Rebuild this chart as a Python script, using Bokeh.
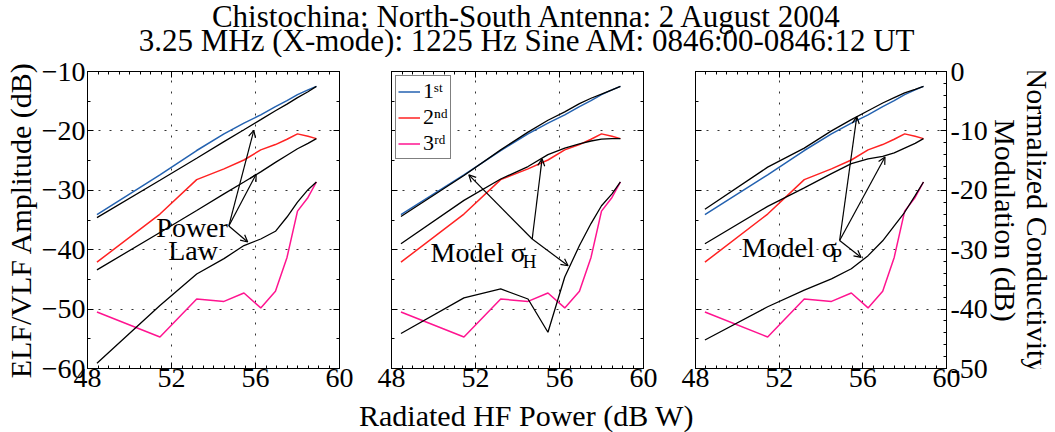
import math
from bokeh.plotting import figure
from bokeh.models import (Range1d, LinearAxis, SingleIntervalTicker, Label, Arrow,
                          OpenHead, Legend, LegendItem, CustomLabelingPolicy)
from bokeh.layouts import column, row
from bokeh.embed import file_html
from bokeh.resources import INLINE

# ---------------- data ----------------
power = [48.45, 51.45, 53.2, 54.5, 55.45, 56.25, 56.95, 57.5, 58.0, 58.5, 58.9]

first = [-34.1, -27.4, -23.3, -20.5, -18.7, -17.3, -15.9, -14.9, -13.9, -13.1, -12.5]
second = [-42.1, -34.0, -28.2, -26.4, -24.9, -23.2, -22.3, -21.4, -20.5, -20.9, -21.3]
third = [-50.5, -54.7, -48.3, -48.7, -47.3, -49.8, -47.0, -41.3, -33.5, -31.2, -28.6]

# power-law fits
pl_1 = [-34.6, -28.3, -24.6, -21.8, -19.8, -18.1, -16.6, -15.5, -14.4, -13.4, -12.5]
pl_2 = [-43.4, -37.1, -33.4, -30.6, -28.6, -26.9, -25.3, -24.1, -23.0, -22.1, -21.3]
pl_3 = [-59.1, -49.4, -44.1, -41.5, -39.3, -38.2, -36.9, -34.5, -32.0, -29.9, -28.6]

# model sigma_H
sh_1 = [-34.4, -27.5, -23.2, -20.2, -18.2, -16.8, -15.4, -14.5, -13.8, -13.1, -12.5]
sh_2 = [-39.0, -31.7, -28.1, -26.0, -24.0, -22.9, -22.2, -21.7, -21.4, -21.3, -21.3]
sh_3 = [-54.1, -48.1, -46.6, -48.3, -53.9, -44.6, -39.3, -35.6, -32.6, -30.6, -28.6]

# model sigma_P
sp_1 = [-33.2, -26.1, -22.9, -20.0, -18.1, -16.6, -15.3, -14.4, -13.6, -13.0, -12.5]
sp_2 = [-39.0, -32.7, -29.6, -27.2, -25.5, -24.7, -24.3, -23.7, -22.9, -22.1, -21.3]
sp_3 = [-55.2, -49.6, -46.8, -44.9, -43.2, -41.0, -38.5, -36.0, -33.7, -30.9, -28.6]

harmonic_labels = ["1\u02e2\u1d57", "2\u207f\u1d48", "3\u02b3\u1d48"]

right_ticks = [0, -10, -20, -30, -40, -50]
right_tick_labels = ["0", "-10", "-20", "-30", "-40", "-50"]

title_lines = ["Chistochina: North-South Antenna: 2 August 2004",
               "3.25 MHz (X-mode): 1225 Hz Sine AM: 0846:00-0846:12 UT"]
x_label = "Radiated HF Power (dB W)"
y_label_left = "ELF/VLF Amplitude (dB)"
y_label_right = ["Normalized Conductivity", "Modulation (dB)"]

# annotation arrows: (start x, start y, [end points])
arrows_pl = (54.73, -36.0, [(55.92, -19.9), (56.03, -27.3), (55.63, -38.7)])
arrows_sh = (54.70, -38.2, [(51.68, -27.4), (55.17, -24.7), (56.41, -42.7)])
arrows_sp = (54.89, -38.45, [(55.71, -17.6), (57.06, -24.4), (55.92, -41.3)])

FONT = "Liberation Serif"
BLUE = "#2462b0"
RED = "#ff2222"
MAGENTA = "#ff1490"

HIDE_LABELS = """
for (const i of indices) { indices.unset(i) }
return indices
"""

HEADER_H = 57
PANEL_H = 343
FOOTER_H = 32


def style_axis(ax, labels, ticker, standoff=0):
    ax.ticker = ticker
    ax.major_tick_in = 6
    ax.major_tick_out = 0
    ax.minor_tick_in = 3
    ax.minor_tick_out = 0
    ax.axis_line_color = "black"
    ax.major_tick_line_color = "black"
    ax.minor_tick_line_color = "black"
    ax.major_label_text_font = FONT
    ax.major_label_text_color = "black"
    if labels:
        ax.major_label_text_font_size = "28px"
        ax.major_label_standoff = standoff
    else:
        ax.major_label_text_font_size = "1px"
        ax.major_label_standoff = 0
        ax.major_label_policy = CustomLabelingPolicy(code=HIDE_LABELS)


def make_panel(width, bl, br, left_labels):
    p = figure(width=width, height=PANEL_H, x_range=Range1d(48, 60), y_range=Range1d(-60, -10),
               output_backend="svg", toolbar_location=None, title=None,
               min_border_left=bl, min_border_right=br, min_border_top=14, min_border_bottom=32)
    p.outline_line_color = "black"
    p.outline_line_width = 1
    style_axis(p.xaxis[0], True, SingleIntervalTicker(interval=4, num_minor_ticks=8), 0)
    style_axis(p.yaxis[0], left_labels, SingleIntervalTicker(interval=10, num_minor_ticks=2), 2)
    top = LinearAxis()
    style_axis(top, False, SingleIntervalTicker(interval=4, num_minor_ticks=8))
    p.add_layout(top, "above")
    for g in (p.xgrid[0], p.ygrid[0]):
        g.grid_line_color = "#333333"
        g.grid_line_dash = "2 9"
        g.grid_line_width = 1
    return p


def add_data(p):
    rb = p.line(power, first, line_color=BLUE, line_width=1.5)
    rr = p.line(power, second, line_color=RED, line_width=1.5)
    rm = p.line(power, third, line_color=MAGENTA, line_width=1.5)
    return rb, rr, rm


def add_model(p, a, b, c):
    for ys in (a, b, c):
        p.line(power, ys, line_color="black", line_width=1.3)


def add_arrows(p, spec):
    sx, sy, ends = spec
    for ex, ey in ends:
        p.add_layout(Arrow(x_start=sx, y_start=sy, x_end=ex, y_end=ey,
                           line_color="black", line_width=1.2,
                           end=OpenHead(size=7, line_color="black", line_width=1.2)))


def add_text(p, x, y, text, size, align="left", angle=0.0):
    p.add_layout(Label(x=x, y=y, text=text, text_font=FONT, text_font_size=size,
                       text_align=align, text_baseline="middle", text_color="black",
                       angle=angle))


# ---------------- panel 1: power law ----------------
p1 = make_panel(365, 87, 26, True)
right1 = LinearAxis()
style_axis(right1, False, SingleIntervalTicker(interval=10, num_minor_ticks=2))
p1.add_layout(right1, "right")
p1.yaxis[0].axis_label = y_label_left
p1.yaxis[0].axis_label_text_font = FONT
p1.yaxis[0].axis_label_text_font_size = "30px"
p1.yaxis[0].axis_label_text_font_style = "normal"
p1.yaxis[0].axis_label_text_color = "black"
p1.yaxis[0].axis_label_standoff = 2
add_data(p1)
add_model(p1, pl_1, pl_2, pl_3)
add_arrows(p1, arrows_pl)
add_text(p1, 52.98, -36.2, "Power", "28px", "center")
add_text(p1, 53.03, -40.2, "Law", "28px", "center")

# ---------------- panel 2: model sigma_H ----------------
p2 = make_panel(304, 26, 26, False)
right2 = LinearAxis()
style_axis(right2, False, SingleIntervalTicker(interval=10, num_minor_ticks=2))
p2.add_layout(right2, "right")
rb, rr, rm = add_data(p2)
add_model(p2, sh_1, sh_2, sh_3)
add_arrows(p2, arrows_sh)
add_text(p2, 49.86, -40.5, "Model \u03c3", "28px")
add_text(p2, 54.25, -42.0, "H", "19px")
legend = Legend(items=[LegendItem(label=harmonic_labels[0], renderers=[rb]),
                       LegendItem(label=harmonic_labels[1], renderers=[rr]),
                       LegendItem(label=harmonic_labels[2], renderers=[rm])],
                location="top_left")
legend.label_text_font = FONT
legend.label_text_font_size = "22px"
legend.label_text_color = "black"
legend.border_line_color = "black"
legend.border_line_width = 1
legend.margin = 4
legend.padding = 2
legend.spacing = 0
legend.glyph_width = 22
legend.glyph_height = 19
legend.label_height = 19
legend.label_standoff = 3
legend.background_fill_color = "white"
legend.background_fill_alpha = 1
p2.add_layout(legend)

# ---------------- panel 3: model sigma_P ----------------
p3 = make_panel(321, 26, 43, False)
p3.extra_y_ranges = {"cond": Range1d(-50, 0)}
right3 = LinearAxis(y_range_name="cond")
style_axis(right3, True, SingleIntervalTicker(interval=10, num_minor_ticks=5), 4)
right3.major_label_overrides = dict(zip(right_ticks, right_tick_labels))
p3.add_layout(right3, "right")
add_data(p3)
add_model(p3, sp_1, sp_2, sp_3)
add_arrows(p3, arrows_sp)
add_text(p3, 50.21, -39.55, "Model \u03c3", "28px")
add_text(p3, 54.5, -41.0, "P", "19px")


# ---------------- text strips (title, right label, x label) ----------------
def text_strip(width, height):
    f = figure(width=width, height=height, x_range=Range1d(0, width), y_range=Range1d(0, height),
               output_backend="svg", toolbar_location=None, min_border=0, title=None,
               x_axis_location=None, y_axis_location=None)
    f.grid.visible = False
    f.outline_line_color = None
    return f


header = text_strip(1055, HEADER_H)
add_text(header, 527, HEADER_H - 16, title_lines[0], "31px", "center")
add_text(header, 527, HEADER_H - 39.5, title_lines[1], "31px", "center")

side = text_strip(65, PANEL_H)
add_text(side, 47, PANEL_H - (229 - HEADER_H), y_label_right[0], "30px", "center", -math.pi / 2)
add_text(side, 15, PANEL_H - (229 - HEADER_H), y_label_right[1], "30px", "center", -math.pi / 2)

footer = text_strip(1055, FOOTER_H)
add_text(footer, 526, FOOTER_H - 15, x_label, "30px", "center")

layout = column(header, row(p1, p2, p3, side, spacing=0), footer, spacing=0)
open("out.html", "w").write(file_html(layout, INLINE))
